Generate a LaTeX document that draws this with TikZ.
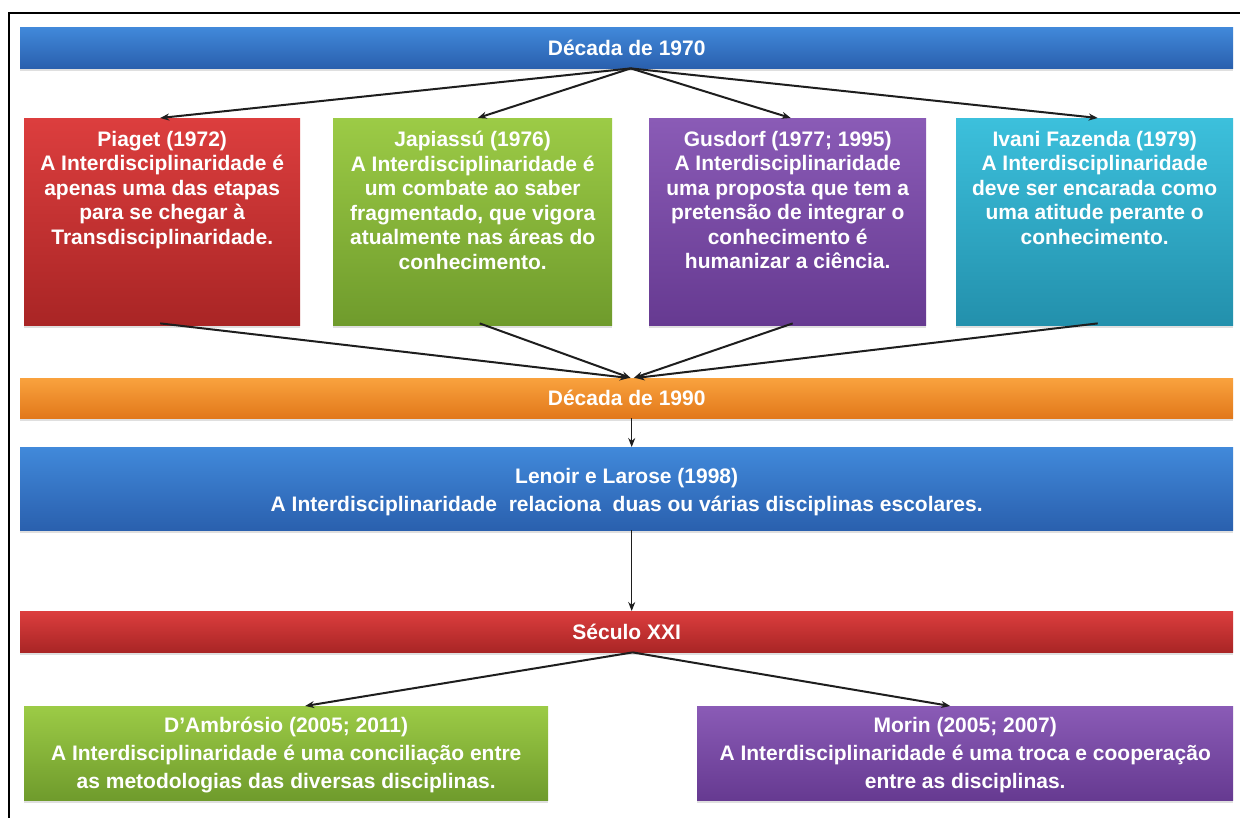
\documentclass[tikz,border=0pt]{standalone}
\usepackage{fontspec}
\setmainfont{Liberation Sans}
\usetikzlibrary{arrows.meta,shadows}
\definecolor{bluetop}{HTML}{4189DA}
\definecolor{bluebot}{HTML}{2A60AE}
\definecolor{redtop}{HTML}{DC3E3E}
\definecolor{redbot}{HTML}{A92525}
\definecolor{greentop}{HTML}{9CCB46}
\definecolor{greenbot}{HTML}{6F9B2C}
\definecolor{purtop}{HTML}{8A5BB6}
\definecolor{purbot}{HTML}{663A91}
\definecolor{cyantop}{HTML}{3CC0DC}
\definecolor{cyanbot}{HTML}{2390AC}
\definecolor{ortop}{HTML}{F9A23E}
\definecolor{orbot}{HTML}{E2781A}
\definecolor{linecol}{HTML}{1E1E1E}
\begin{document}
\begin{tikzpicture}[x=1pt,y=-1pt,
  box/.style={draw=none, inner sep=0pt, anchor=north west,
    drop shadow={opacity=0.25, shadow xshift=0pt, shadow yshift=-3pt}},
  bluebox/.style={box, top color=bluetop, bottom color=bluebot},
  redbox/.style={box, top color=redtop, bottom color=redbot},
  greenbox/.style={box, top color=greentop, bottom color=greenbot},
  purbox/.style={box, top color=purtop, bottom color=purbot},
  cyanbox/.style={box, top color=cyantop, bottom color=cyanbot},
  orbox/.style={box, top color=ortop, bottom color=orbot},
  txt/.style={text=white, align=center, inner sep=0pt,
    font=\bfseries\fontsize{21}{24.5}\selectfont},
  wtxt/.style={text=white, align=center, inner sep=0pt,
    font=\bfseries\fontsize{21}{28}\selectfont},
  arr/.style={draw=linecol, line width=2pt, -{Stealth[length=9pt,width=7pt]}},
]
\useasboundingbox (0,0) rectangle (1240,818);
\fill[white] (0,0) rectangle (1240,818);
% frame
\draw[line width=2.2pt] (9,818) -- (9,13) -- (1240,13);

% bars and boxes
\node[bluebox, minimum width=1213pt, minimum height=41pt] (d70) at (20,27) {};
\node[txt] (d70t) at (d70.center) {Década de 1970};

\node[redbox, minimum width=276pt, minimum height=207pt] (pia) at (24,118) {};
\node[greenbox, minimum width=279pt, minimum height=207pt] (jap) at (333,118) {};
\node[purbox, minimum width=277pt, minimum height=207pt] (gus) at (649,118) {};
\node[cyanbox, minimum width=277pt, minimum height=207pt] (faz) at (956,118) {};

\node[txt, anchor=north] (piat) at ([yshift=-13pt]pia.north) {Piaget (1972)\\A Interdisciplinaridade é\\apenas uma das etapas\\para se chegar à\\Transdisciplinaridade.};
\node[txt, anchor=north] (japt) at ([yshift=-13pt]jap.north) {Japiassú (1976)\\A Interdisciplinaridade é\\um combate ao saber\\fragmentado, que vigora\\atualmente nas áreas do\\conhecimento.};
\node[txt, anchor=north] (gust) at ([yshift=-13pt]gus.north) {Gusdorf (1977; 1995)\\A Interdisciplinaridade\\uma proposta que tem a\\pretensão de integrar o\\conhecimento é\\humanizar a ciência.};
\node[txt, anchor=north] (fazt) at ([yshift=-13pt]faz.north) {Ivani Fazenda (1979)\\A Interdisciplinaridade\\deve ser encarada como\\uma atitude perante o\\conhecimento.};

\node[orbox, minimum width=1213pt, minimum height=40pt] (d90) at (20,378) {};
\node[txt] (d90t) at (d90.center) {Década de 1990};

\node[bluebox, minimum width=1213pt, minimum height=83pt] (len) at (20,447) {};
\node[wtxt] (lent) at ([yshift=-3pt]len.center) {Lenoir e Larose (1998)\\A Interdisciplinaridade\ \ relaciona\ \ duas ou várias disciplinas escolares.};

\node[redbox, minimum width=1213pt, minimum height=41pt] (sec) at (20,611) {};
\node[txt] (sect) at (sec.center) {Século XXI};

\node[greenbox, minimum width=524pt, minimum height=94pt] (dam) at (24,706) {};
\node[purbox, minimum width=536pt, minimum height=94pt] (mor) at (697,706) {};
\node[wtxt] (damt) at ([yshift=-2pt]dam.center) {D’Ambrósio (2005; 2011)\\A Interdisciplinaridade é uma conciliação entre\\as metodologias das diversas disciplinas.};
\node[wtxt] (mort) at ([yshift=-2pt]mor.center) {Morin (2005; 2007)\\A Interdisciplinaridade é uma troca e cooperação\\entre as disciplinas.};

% connectors
\draw[arr] ([xshift=4pt]d70.south) -- ([xshift=-2pt]pia.north);
\draw[arr] ([xshift=4pt]d70.south) -- ([xshift=5pt]jap.north);
\draw[arr] ([xshift=4pt]d70.south) -- ([xshift=3pt]gus.north);
\draw[arr] ([xshift=4pt]d70.south) -- ([xshift=3pt]faz.north);

\draw[arr] ([xshift=-2pt,yshift=2pt]pia.south) -- ([xshift=2pt]d90.north);
\draw[arr] ([xshift=7pt,yshift=2pt]jap.south) -- ([xshift=4pt]d90.north);
\draw[arr] ([xshift=5pt,yshift=2pt]gus.south) -- ([xshift=7pt]d90.north);
\draw[arr] ([xshift=3pt,yshift=2pt]faz.south) -- ([xshift=9pt]d90.north);

\draw[arr, line width=1.4pt] ([xshift=5pt]d90.south) -- ([xshift=5pt]len.north);
\draw[arr, line width=1.4pt] ([xshift=5pt]len.south) -- ([xshift=5pt]sec.north);

\draw[arr] ([xshift=6pt]sec.south) -- ([xshift=19pt]dam.north);
\draw[arr] ([xshift=6pt]sec.south) -- ([xshift=-15pt]mor.north);
\end{tikzpicture}
\end{document}
